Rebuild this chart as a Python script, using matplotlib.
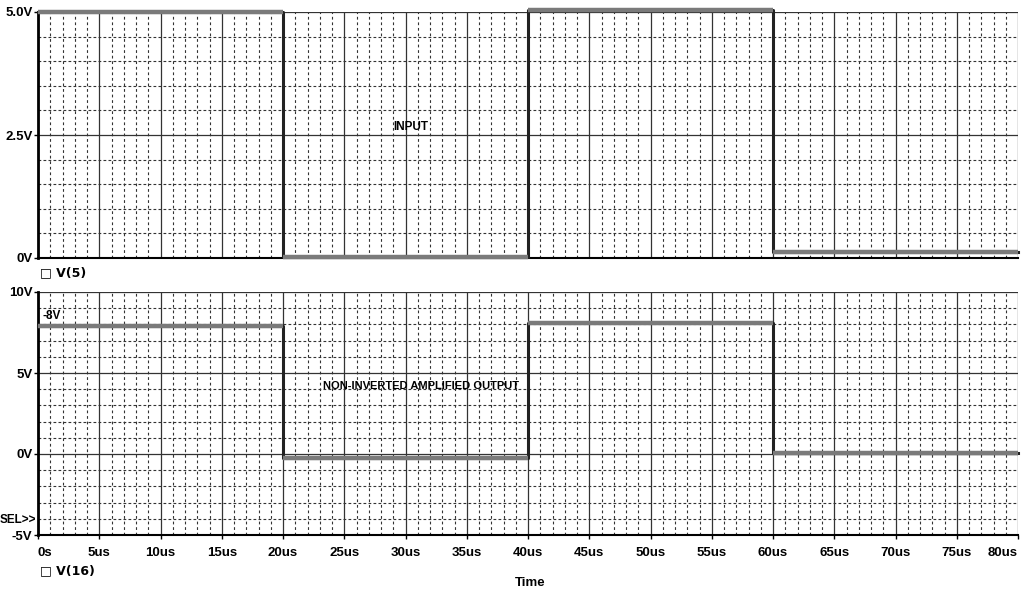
import matplotlib
matplotlib.use("Agg")
import matplotlib.pyplot as plt
import numpy as np

# ---- data ----
seg_times = [0, 20, 40, 60, 80]            # us, segment boundaries
v5_levels = [5.0, 0.02, 5.05, 0.12]        # V(5) input levels
v16_levels = [7.9, -0.25, 8.1, 0.08]       # V(16) output levels
x_ticks = [0, 5, 10, 15, 20, 25, 30, 35, 40, 45, 50, 55, 60, 65, 70, 75, 80]
x_labels = ["0s", "5us", "10us", "15us", "20us", "25us", "30us", "35us", "40us",
            "45us", "50us", "55us", "60us", "65us", "70us", "75us", "80us"]
top_yticks = [0, 2.5, 5.0]
top_ylabels = ["0V", "2.5V", "5.0V"]
bot_yticks = [-5, 0, 5, 10]
bot_ylabels = ["-5V", "0V", "5V", "10V"]

FONT = ["Liberation Sans Narrow", "Liberation Sans", "DejaVu Sans"]
plt.rcParams['font.family'] = FONT
plt.rcParams['font.weight'] = 'bold'

fig = plt.figure(figsize=(10.24, 5.94), dpi=100)
fig.patch.set_facecolor("white")

W, H = 1024, 594
def ax_rect(x0, y0, x1, y1):
    return [x0 / W, (H - y1) / H, (x1 - x0) / W, (y1 - y0) / H]

ax1 = fig.add_axes(ax_rect(38, 12, 1018, 258))
ax2 = fig.add_axes(ax_rect(38, 292, 1018, 535))

def style(ax, ylim, major_y, minor_y):
    ax.set_xlim(0, 80)
    ax.set_ylim(*ylim)
    for xm in np.arange(0, 81, 1):
        if xm % 5 == 0:
            ax.axvline(xm, color="#333333", lw=0.9, zorder=1)
        else:
            ax.axvline(xm, color="#333333", lw=0.8, ls=(0, (2.5, 2.5)), zorder=1)
    for ym in minor_y:
        if any(abs(ym - m) < 1e-6 for m in major_y):
            ax.axhline(ym, color="#333333", lw=0.9, zorder=1)
        else:
            ax.axhline(ym, color="#333333", lw=0.8, ls=(0, (2.5, 2.0)), zorder=1)
    for s in ["top", "right"]:
        ax.spines[s].set_visible(False)
    ax.spines["left"].set_linewidth(2.0)
    ax.spines["bottom"].set_linewidth(1.5)
    ax.tick_params(axis="both", direction="out", length=3, width=1, labelsize=9.5, pad=1)

style(ax1, (0, 5.0), top_yticks, np.arange(0, 5.01, 0.5))
style(ax2, (-5, 10), bot_yticks, np.arange(-5, 10.01, 1))

def draw_trace(ax, levels):
    xs = seg_times
    ys = levels + [levels[-1]]
    ax.step(xs, ys, where="post", color="#222222", lw=2.2, zorder=3, clip_on=False)
    for i, lv in enumerate(levels):
        ax.hlines(lv, xs[i], xs[i + 1], color="#7a7a7a", lw=3.2, zorder=4, clip_on=False)

draw_trace(ax1, v5_levels)
draw_trace(ax2, v16_levels)

ax1.set_yticks(top_yticks)
ax1.set_yticklabels(top_ylabels)
ax1.set_xticks(x_ticks)
ax1.set_xticklabels([])
ax1.tick_params(axis="x", length=0)

ax2.set_yticks(bot_yticks)
ax2.set_yticklabels(bot_ylabels)
ax2.set_xticks(x_ticks)
ax2.set_xticklabels(x_labels)
ax2.tick_params(axis="x", pad=6)
xl = ax2.get_xticklabels()
xl[0].set_ha("left")
xl[-1].set_ha("right")

ax1.text(29.0, 2.55, "INPUT", fontsize=8.5, ha="left", va="bottom", zorder=5)
ax2.text(23.3, 4.2, "NON-INVERTED AMPLIFIED OUTPUT", fontsize=8, ha="left", va="center", zorder=5)
ax2.text(0.4, 8.5, "-8V", fontsize=8.5, ha="left", va="center", zorder=5)
fig.text(36 / W, 1 - 520 / H, "SEL>>", fontsize=8.5, ha="right", va="center")

fig.text(40 / W, 1 - 273 / H, "\u25a1 V(5)", fontsize=9, ha="left", va="center", family=["DejaVu Sans"])
fig.text(40 / W, 1 - 571 / H, "\u25a1 V(16)", fontsize=9, ha="left", va="center", family=["DejaVu Sans"])
fig.text(530 / W, 1 - 583 / H, "Time", fontsize=9.5, ha="center", va="center")

fig.savefig("out.png", dpi=100)
